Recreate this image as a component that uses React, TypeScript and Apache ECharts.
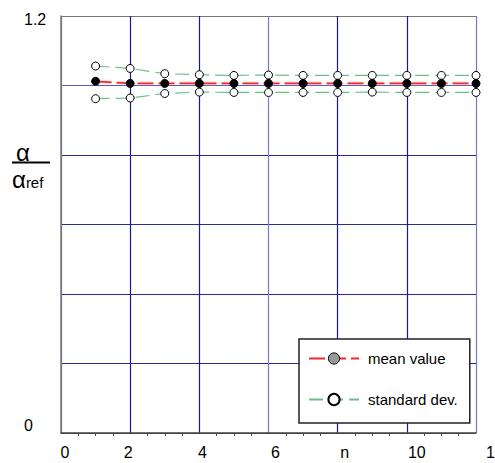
import React, { useEffect, useRef } from "react";
import * as echarts from "echarts";

const nValues = [1, 2, 3, 4, 5, 6, 7, 8, 9, 10, 11, 12];
const meanValues = [1.012, 1.006, 1.006, 1.006, 1.006, 1.006, 1.006, 1.006, 1.006, 1.006, 1.006, 1.006];
const upperStd = [1.056, 1.049, 1.034, 1.031, 1.029, 1.030, 1.029, 1.029, 1.029, 1.029, 1.029, 1.029];
const lowerStd = [0.962, 0.964, 0.977, 0.981, 0.980, 0.980, 0.980, 0.980, 0.981, 0.980, 0.980, 0.980];
const xTickValues = [0, 2, 4, 6, 8, 10, 12];
const xTickLabels = ["0", "2", "4", "6", "n", "10", "12"];
const yTickValues = [0, 1.2];
const yTickLabels = ["0", "1.2"];
const legendNames = ["mean value", "standard dev."];

const FONT = "'Liberation Sans', Arial, sans-serif";

export default function App() {
  const ref = useRef<HTMLDivElement>(null);
  useEffect(() => {
    if (!ref.current) return;
    const chart = echarts.init(ref.current, null, { renderer: "svg" });
    const xRich: any = {};
    const xPads = [
      [0, 0, 0, 8],
      [0, 4, 0, 0],
      [0, 0, 0, 6],
      [0, 0, 0, 14],
      [0, 0, 0, 14],
      [0, 0, 0, 20],
      [0, 0, 0, 38],
    ];
    xPads.forEach((p, i) => {
      xRich["l" + i] = { fontSize: 16, fontFamily: FONT, color: "#000", padding: p };
    });
    const toPts = (arr: number[]) => nValues.map((n, i) => [n, arr[i]]);
    const stdLine = {
      color: "#6cbf8a",
      width: 1.2,
      type: [14, 6] as any,
    };
    const hollow = {
      color: "#fff",
      borderColor: "#000",
      borderWidth: 1,
    };
    const option: any = {
      animation: false,
      backgroundColor: "#fff",
      grid: {
        left: 61,
        right: 19,
        top: 16,
        bottom: 30,
        containLabel: false,
        outerBoundsMode: "none",
      },
      xAxis: {
        type: "value",
        min: 0,
        max: 12,
        interval: 2,
        axisLine: { show: true, lineStyle: { color: "#444", width: 1.5 } },
        axisTick: { show: false },
        minorTick: { show: true, splitNumber: 4, length: 3, lineStyle: { color: "#444", width: 1 } },
        splitLine: {
          show: true,
          lineStyle: {
            color: ["#777", "#1a1a8c", "#1a1a8c", "#7878c8", "#1a1a8c", "#1a1a8c", "#7878c8"],
            width: 1.2,
          },
        },
        axisLabel: {
          margin: 11,
          hideOverlap: false,
          formatter: (v: number) => {
            const i = xTickValues.indexOf(v);
            return i >= 0 ? `{l${i}|${xTickLabels[i]}}` : "";
          },
          rich: xRich,
        },
      },
      yAxis: {
        type: "value",
        min: 0,
        max: 1.2,
        interval: 0.2,
        axisLine: { show: true, lineStyle: { color: "#777", width: 1.5 } },
        axisTick: { show: false },
        splitLine: {
          show: true,
          lineStyle: {
            color: ["#444", "#2a2a9c", "#2a2a9c", "#2a2a9c", "#2a2a9c", "#5a5ab8", "#777"],
            width: 1.2,
          },
        },
        axisLabel: {
          margin: 37,
          align: "left",
          formatter: (v: number) => {
            const i = yTickValues.findIndex((t) => Math.abs(t - v) < 1e-6);
            if (i < 0) return "";
            return i === 0 ? `{z|${yTickLabels[i]}}` : `{t|${yTickLabels[i]}}`;
          },
          rich: {
            z: { fontSize: 16, fontFamily: FONT, color: "#000", padding: [0, 0, 16, 0] },
            t: { fontSize: 16, fontFamily: FONT, color: "#000", padding: [7, 0, 0, 0] },
          },
        },
      },
      legend: {
        left: 299,
        top: 339,
        orient: "vertical",
        backgroundColor: "#fff",
        borderColor: "#222",
        borderWidth: 1.5,
        borderRadius: 0,
        padding: [12, 12, 16, 9],
        itemWidth: 50,
        itemHeight: 14,
        itemGap: 26,
        textStyle: { fontSize: 15, fontFamily: FONT, color: "#000", padding: [0, 0, 0, 4] },
        data: [
          { name: legendNames[0], itemStyle: { color: "#999", borderColor: "#000", borderWidth: 1 } },
          { name: legendNames[1] },
        ],
      },
      graphic: [
        {
          type: "text",
          left: 16,
          top: 140,
          style: { text: "α", fontSize: 24, fontFamily: FONT, fill: "#000" },
        },
        {
          type: "line",
          shape: { x1: 12, y1: 162.5, x2: 50, y2: 162.5 },
          style: { stroke: "#000", lineWidth: 2 },
        },
        {
          type: "text",
          left: 12,
          top: 167,
          style: {
            text: "{a|α}{r|ref}",
            rich: {
              a: { fontSize: 24, fontFamily: FONT, fill: "#000" },
              r: { fontSize: 15, fontFamily: FONT, fill: "#000", padding: [7, 0, 0, 0] },
            },
          },
        },
      ],
      series: [
        {
          name: legendNames[1],
          type: "line",
          data: toPts(upperStd),
          symbol: "circle",
          symbolSize: 8,
          lineStyle: stdLine,
          itemStyle: hollow,
          z: 3,
        },
        {
          name: legendNames[1],
          type: "line",
          data: toPts(lowerStd),
          symbol: "circle",
          symbolSize: 8,
          lineStyle: stdLine,
          itemStyle: hollow,
          z: 3,
        },
        {
          name: legendNames[0],
          type: "line",
          data: toPts(meanValues),
          symbol: "circle",
          symbolSize: 8,
          lineStyle: {
            color: "#ee2a2a",
            width: 1.8,
            type: [16, 5] as any,
            shadowColor: "rgba(255,120,120,0.6)",
            shadowBlur: 2,
          },
          itemStyle: { color: "#000", borderColor: "#000", borderWidth: 1 },
          z: 4,
        },
      ],
    };
    chart.setOption(option);
    return () => chart.dispose();
  }, []);
  return (
    <div
      ref={ref}
      style={{ position: "fixed", left: 0, top: 0, width: 495, height: 463 }}
    />
  );
}
